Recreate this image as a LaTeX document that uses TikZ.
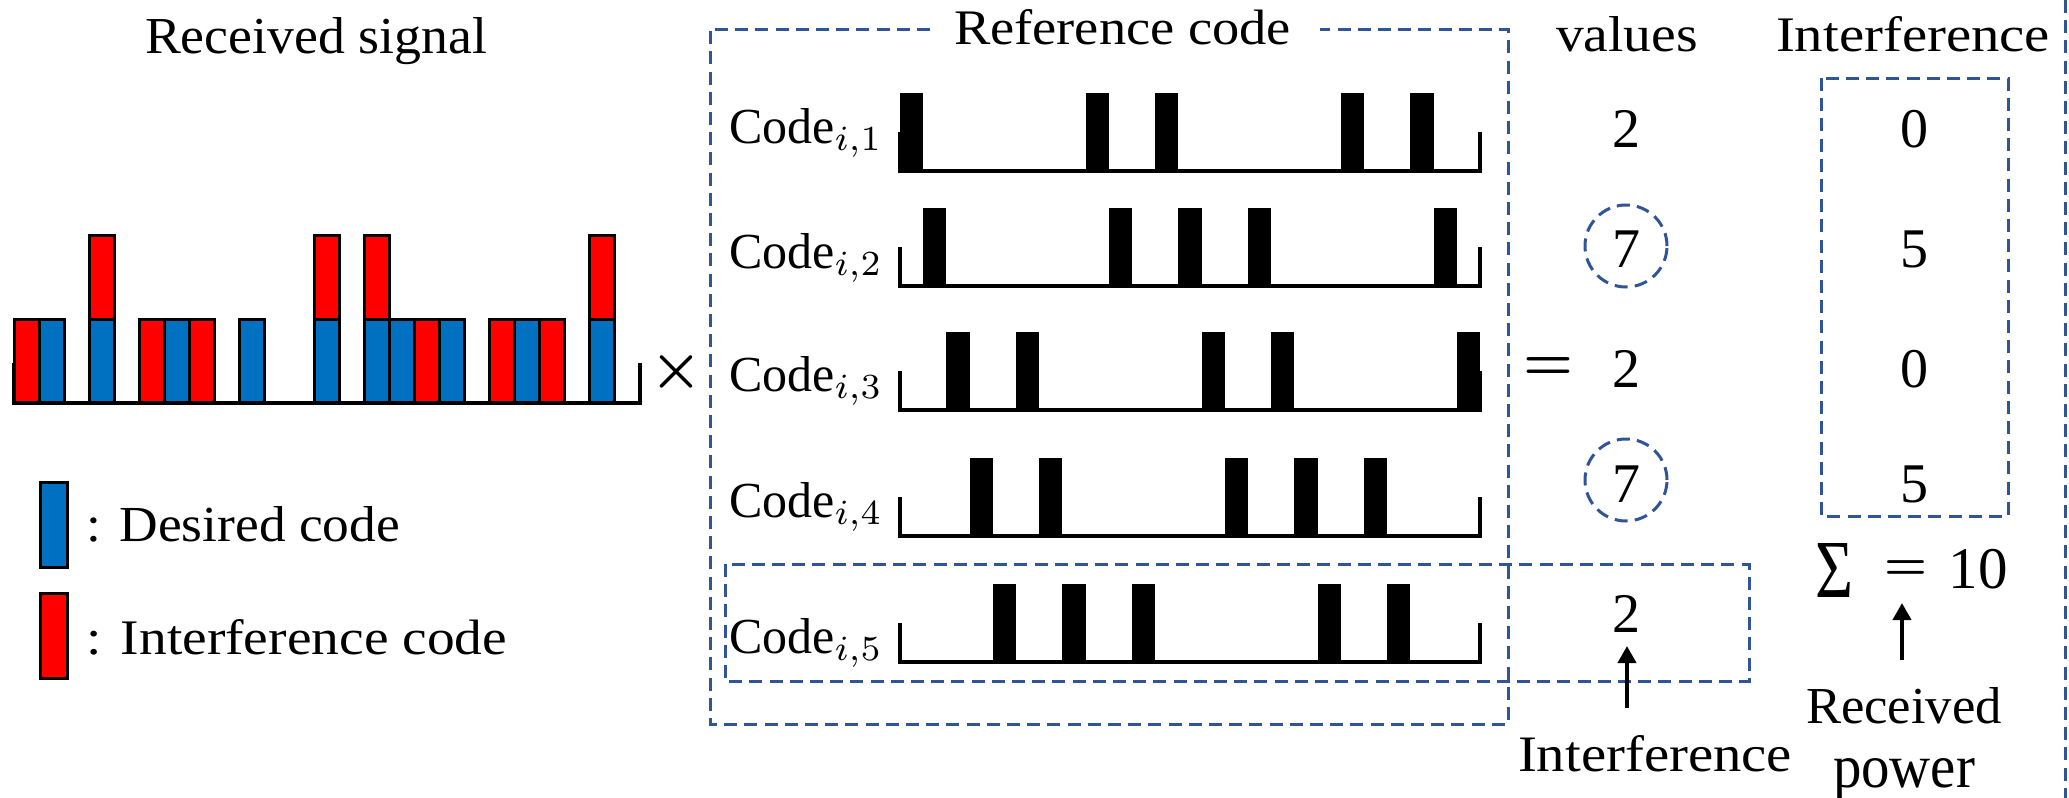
\documentclass[tikz,border=0pt]{standalone}
\usepackage{graphicx}
\usepackage{fontspec}
\setmainfont{Liberation Serif}
\usetikzlibrary{arrows.meta}

% one drawing unit = 0.5pt; \fitbox scales a text to a given width and height in those units
\newlength\pxu
\setlength\pxu{0.5pt}
\newcommand{\fitbox}[3]{\resizebox{#1\pxu}{#2\pxu}{#3}}

\definecolor{sigblue}{HTML}{0070C0}
\definecolor{sigred}{HTML}{FF0000}
\definecolor{dashblue}{HTML}{2F5597}

\tikzset{
  lbl/.style={anchor=base west, inner sep=0pt, outer sep=0pt},
  num/.style={anchor=base, inner sep=0pt, font=\fontsize{28}{30}\selectfont},
  dbox/.style={draw=dashblue, line width=1.5pt, dash pattern=on 6.5pt off 3.6pt},
  axisline/.style={line width=2pt, line cap=butt},
  chip/.style={draw=black, line width=1.5pt},
  ptr/.style={line width=2pt, -{Triangle[width=9pt,length=8.5pt]}},
}

\begin{document}
\begin{tikzpicture}[x=0.5pt, y=-0.5pt]
\useasboundingbox (0,0) rectangle (2069,798);

% ---------- received signal ----------
\node[lbl] (rxtitle) at (145,53) {\fitbox{342}{36}{Received signal}};
\draw[axisline] (14.3,362.7) -- (14.3,402.7) -- (639.7,402.7) -- (639.7,362.7);
\foreach \i in {1,3,6,9,12,14,15,17,20,23}
  \draw[chip, fill=sigblue] ({14.3+25*\i},402.7) rectangle ++(25,-83.4);
\foreach \i in {0,5,7,16,19,21}
  \draw[chip, fill=sigred] ({14.3+25*\i},402.7) rectangle ++(25,-83.4);
\foreach \i in {3,12,14,23}
  \draw[chip, fill=sigred] ({14.3+25*\i},319.3) rectangle ++(25,-83.6);

\node[inner sep=0pt] (times) at (676,372) {\resizebox{52\pxu}{!}{\boldmath$\times$}};

% legend
\draw[chip, fill=sigblue] (40.7,482.3) rectangle (67.7,567);
\draw[chip, fill=sigred] (40.7,593) rectangle (67.7,678);
\node[lbl] (legd) at (87,541.7) {\fitbox{313}{35}{: Desired code}};
\node[lbl] (legi) at (87,654) {\fitbox{420}{35}{: Interference code}};

% ---------- reference codes ----------
\node[lbl] (reftitle) at (954,44) {\fitbox{337}{35}{Reference code}};
\draw[dbox] (930,29) -- (710,29) -- (710,724) -- (1508,724) -- (1508,29) -- (1320,29);
\draw[dbox] (725,564) rectangle (1749,681);

\foreach \b/\s in {171/{0,8,11,19,22}, 286/{1,9,12,15,23}, 410/{2,5,13,16,24},
                   536/{3,6,14,17,20}, 662/{4,7,10,18,21}} {
  \draw[axisline] (900,{\b-39}) -- (900,\b) -- (1480,\b) -- (1480,{\b-39});
  \foreach \i in \s
    \fill[black] ({900+23.2*\i},\b) rectangle ++(23.2,-78);
}

\node[lbl] (c1) at (729,143) {\fitbox{154}{35}{Code$_{i,1}$}};
\node[lbl] (c2) at (729,268) {\fitbox{154}{35}{Code$_{i,2}$}};
\node[lbl] (c3) at (729,391) {\fitbox{154}{35}{Code$_{i,3}$}};
\node[lbl] (c4) at (729,517) {\fitbox{154}{35}{Code$_{i,4}$}};
\node[lbl] (c5) at (729,653) {\fitbox{154}{35}{Code$_{i,5}$}};

% ---------- correlation values ----------
\node[lbl] (valtitle) at (1556,51.7) {\fitbox{142}{35}{values}};
\node[inner sep=0pt] (eq) at (1548,369) {\resizebox{50\pxu}{!}{\boldmath$=$}};
\node[num] (v1) at (1626,147) {2};
\node[num] (v2) at (1626,267) {7};
\node[num] (v3) at (1626,387) {2};
\node[num] (v4) at (1626,502) {7};
\node[num] (v5) at (1626,632) {2};
\node[dbox, circle, minimum size=41pt, inner sep=0pt] (o2) at (1626,246) {};
\node[dbox, circle, minimum size=41pt, inner sep=0pt] (o4) at (1626,480) {};

\coordinate (a1s) at (1627,708);
\coordinate (a1e) at (1627,646);
\draw[ptr] (a1s) -- (a1e);
\node[lbl] (inflbl) at (1518,771) {\fitbox{274}{36}{Interference}};

% ---------- interference column ----------
\node[lbl] (inftitle) at (1776,51.7) {\fitbox{274}{35}{Interference}};
\draw[dbox] (1821,78) rectangle (2008,516);
\node[num] (i1) at (1914,147) {0};
\node[num] (i2) at (1914,267) {5};
\node[num] (i3) at (1914,387) {0};
\node[num] (i4) at (1914,502) {5};

\node[lbl] (sig) at (1815,597) {\fitbox{38}{54}{Σ}};
\node[inner sep=0pt] (eq2) at (1906,570) {\resizebox{43\pxu}{!}{\boldmath$=$}};
\node[num, font=\fontsize{29.5}{30}\selectfont] (total) at (1978,588) {10};

\coordinate (a2s) at (1902,660);
\coordinate (a2e) at (1902,603);
\draw[ptr] (a2s) -- (a2e);
\node[lbl] (rplbl1) at (1806,723) {\fitbox{196}{36}{Received}};
\node[lbl] (rplbl2) at (1833,787) {\fitbox{142}{29}{power}};

\draw[dbox] (2065,0) -- (2065,798);
\end{tikzpicture}
\end{document}
